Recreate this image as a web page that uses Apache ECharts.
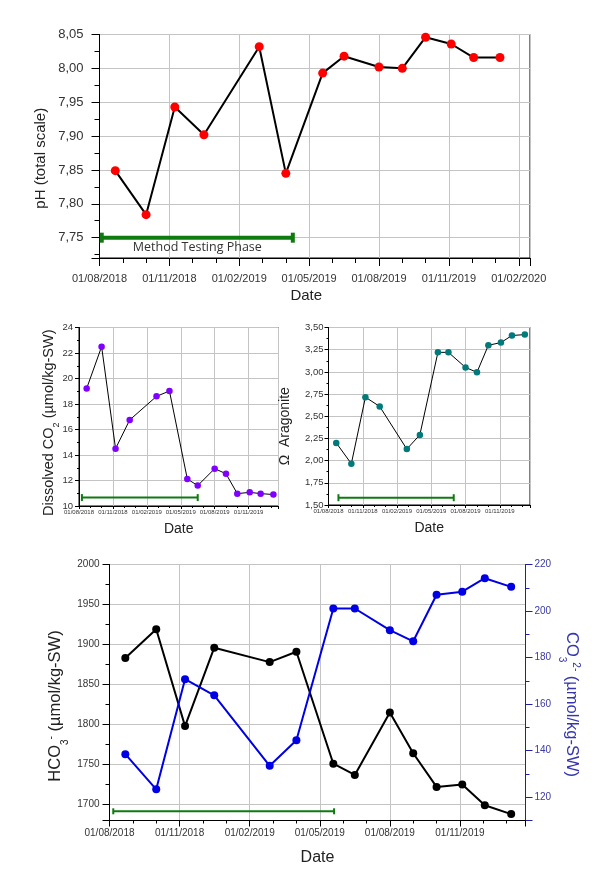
<!DOCTYPE html>
<html><head><meta charset="utf-8">
<script src="https://cdn.jsdelivr.net/npm/echarts@6/dist/echarts.min.js"></script>
<style>html,body{margin:0;padding:0;background:#fff}#c{width:604px;height:878px}</style>
</head><body><div id="c"></div>
<script>
// ---------------- DATA ----------------
const sampleDates = ['2018-08-22','2018-10-01','2018-11-08','2018-12-16','2019-02-25','2019-04-01','2019-05-19','2019-06-16','2019-08-01','2019-09-01','2019-10-01','2019-11-04','2019-12-03','2020-01-07'];
const pH = [7.849,7.784,7.943,7.902,8.032,7.845,7.993,8.018,8.002,8.000,8.046,8.036,8.016,8.016];
const dissolvedCO2 = [19.22,22.5,14.5,16.75,18.6,19.02,12.12,11.6,12.93,12.53,10.97,11.07,10.97,10.9];
const omegaAragonite = [2.20,1.965,2.715,2.61,2.13,2.29,3.22,3.22,3.05,2.995,3.30,3.33,3.41,3.42];
const bicarbonate = [1883,1919,1798,1896,1878,1891,1751,1737,1815,1764,1722,1725,1699,1688];
const carbonate = [138.5,123.4,170.7,163.8,133.5,144.5,201.1,201.1,191.8,187,207,208.3,214.1,210.4];
const xTickLabels = ['01/08/2018','01/11/2018','01/02/2019','01/05/2019','01/08/2019','01/11/2019','01/02/2020'];
const phaseLabel = 'Method Testing Phase';
const phasePH = ['2018-08-04','2019-04-10'];   const phasePHLevel = 7.75;
const phaseCO2 = ['2018-08-09','2019-06-16'];  const phaseCO2Level = 10.66;
const phaseOmega = ['2018-08-28','2019-06-30']; const phaseOmegaLevel = 1.582;
const phaseHCO3 = ['2018-08-06','2019-05-20']; const phaseHCO3Level = 1691.5;

// ---------------- HELPERS ----------------
const FONT = 'Liberation Sans, Arial, sans-serif';
function toMonths(s){ // months since 01/08/2018
  const [y,m,d] = s.split('-').map(Number);
  const dim = new Date(y, m, 0).getDate();
  return (y-2018)*12 + (m-8) + (d-1)/dim;
}
function pairs(vals){ return sampleDates.map((d,i)=>[toMonths(d), vals[i]]); }
function phasePairs(range, level){ return range.map(d=>[toMonths(d), level]); }
function isMult(v, step){ const r=v/step; return Math.abs(r-Math.round(r))<1e-6; }

function xAxisFor(g, maxDate, o){
  return {
    type:'value', gridIndex:g, min:0, max:toMonths(maxDate), interval:3,
    axisLine:{show:true, onZero:false, lineStyle:{color:'#000', width:1}},
    axisTick:{show:true, inside:false, length:o.tick, lineStyle:{color:'#000'}},
    minorTick:{show:true, splitNumber:3, length:o.minor, lineStyle:{color:'#000'}},
    splitLine:{show:true, lineStyle:{color:'#c4c4c4', width:1}},
    axisLabel:{ formatter:v=> isMult(v,3) ? (xTickLabels[Math.round(v/3)]||'') : '',
      fontSize:o.fs, color:'#333', fontFamily:FONT, margin:o.margin, hideOverlap:false },
    name:'Date', nameLocation:'middle', nameGap:o.nameGap, nameMoveOverlap:false,
    nameTextStyle:{fontSize:o.nameFs, color:'#222', fontFamily:FONT, padding:o.namePad||0}
  };
}
function yAxisFor(g, min, max, o){
  const a = {
    type:'value', gridIndex:g, min, max, position:o.position||'left',
    axisLine:{show:true, onZero:false, lineStyle:{color:o.lineColor||'#000', width:1}},
    axisTick:{show:true, inside:false, length:o.tick, lineStyle:{color:o.lineColor||'#000'}},
    minorTick:{show:true, splitNumber:2, length:o.minor, lineStyle:{color:o.lineColor||'#000'}},
    splitLine:{show:o.split!==false, lineStyle:{color:'#c4c4c4', width:1}},
    axisLabel:{ formatter:o.fmt, fontSize:o.fs, color:o.labelColor||'#333', fontFamily:FONT, margin:o.margin, showMinLabel:o.showMin!==false, hideOverlap:false },
    name:o.name, nameLocation:'middle', nameGap:o.nameGap, nameRotate:o.nameRotate||90, nameMoveOverlap:false,
    nameTextStyle:Object.assign({fontSize:o.nameFs, color:o.nameColor||'#222', fontFamily:FONT, padding:o.namePad||0}, o.nameStyle||{})
  };
  if (o.interval) a.interval = o.interval; else a.splitNumber = o.splitNumber;
  return a;
}
function lineSeries(x, y, data, o){
  return { type:'line', xAxisIndex:x, yAxisIndex:y, data, symbol:'circle', symbolSize:o.size,
    itemStyle:{color:o.mark}, lineStyle:{color:o.line, width:o.lw}, emphasis:{disabled:true}, z:3 };
}
function phaseSeries(x, y, data, o){
  return { type:'line', xAxisIndex:x, yAxisIndex:y, data, symbol:'rect', symbolSize:o.cap,
    itemStyle:{color:'#0f7a10'}, lineStyle:{color:'#0f7a10', width:o.lw}, emphasis:{disabled:true}, z:2 };
}
const comma2 = v => isMult(v,0.05) ? v.toFixed(2).replace('.',',') : '';

const chart = echarts.init(document.getElementById('c'), null, {renderer:'canvas'});
const gridBase = {show:true, borderColor:'#000', borderWidth:1, backgroundColor:'transparent', containLabel:false, outerBoundsMode:'none'};

const option = {
  animation:false,
  backgroundColor:'#fff',
  grid:[
    Object.assign({left:99.5, top:34.5, width:430.5, height:223.5}, gridBase),
    Object.assign({left:79, top:327.5, width:199.5, height:178.5}, gridBase),
    Object.assign({left:328.5, top:327.5, width:201.5, height:177.5}, gridBase),
    Object.assign({left:109.5, top:564.5, width:416, height:256}, gridBase)
  ],
  xAxis:[
    xAxisFor(0,'2020-02-15',{tick:8, minor:5, fs:11, margin:15, nameGap:30, nameFs:15, namePad:[0,17,0,0]}),
    xAxisFor(1,'2020-01-21',{tick:3, minor:2, fs:6, margin:3, nameGap:16, nameFs:14}),
    xAxisFor(2,'2020-01-21',{tick:3, minor:2, fs:6, margin:3, nameGap:16, nameFs:14}),
    xAxisFor(3,'2020-01-26',{tick:6, minor:3, fs:10, margin:8, nameGap:29, nameFs:16})
  ],
  yAxis:[
    yAxisFor(0, 7.72, 8.05, {splitNumber:6, tick:8, minor:5, fs:13, margin:16, fmt:comma2, showMin:false,
      name:'pH (total scale)', nameGap:51, nameFs:15, namePad:[0,24,0,0]}),
    yAxisFor(1, 10, 24, {interval:2, tick:4, minor:2, fs:9.5, margin:6, fmt:v=>String(v),
      name:'{a|Dissolved CO}{s|2}{a| (µmol/kg-SW)}', nameGap:18,
      nameStyle:{padding:[0,12,0,0], rich:{a:{fontSize:14.5, fontFamily:FONT, color:'#222', lineHeight:20, verticalAlign:'top'},
                       s:{fontSize:9, fontFamily:FONT, color:'#222', lineHeight:11, verticalAlign:'bottom'}}}}),
    yAxisFor(2, 1.5, 3.5, {interval:0.25, tick:4, minor:2, fs:9.5, margin:5, fmt:v=>v.toFixed(2).replace('.',','),
      name:'Ω  Aragonite', nameGap:36, nameFs:14, namePad:[0,20,0,0]}),
    yAxisFor(3, 1680, 2000, {splitNumber:6, tick:7, minor:4, fs:10, margin:10, fmt:v=> isMult(v,50)?String(v):'', showMin:false,
      name:'{a|HCO}{s|3}{p|-}{a| (µmol/kg-SW)}', nameGap:39,
      nameStyle:{padding:[0,27,0,0], rich:{a:{fontSize:16.5, fontFamily:FONT, color:'#222', lineHeight:24, verticalAlign:'top'},
                       s:{fontSize:10, fontFamily:FONT, color:'#222', lineHeight:12, verticalAlign:'bottom'},
                       p:{fontSize:10, fontFamily:FONT, color:'#222', lineHeight:12, verticalAlign:'top'}}}}),
    yAxisFor(3, 110, 220, {splitNumber:5, position:'right', split:false, tick:7, minor:4, fs:10, margin:9,
      lineColor:'#2020a0', labelColor:'#3a3aa8', fmt:v=> isMult(v,20)?String(v):'', showMin:false,
      name:'{a|CO}{s|3}{p|2-}{a| (µmol/kg-SW)}', nameGap:31, nameRotate:-90,
      nameStyle:{padding:[0,0,0,24], rich:{a:{fontSize:16.5, fontFamily:FONT, color:'#3535b0', lineHeight:24, verticalAlign:'top'},
                       s:{fontSize:10, fontFamily:FONT, color:'#3535b0', lineHeight:12, verticalAlign:'bottom'},
                       p:{fontSize:10, fontFamily:FONT, color:'#3535b0', lineHeight:12, verticalAlign:'top'}}}})
  ],
  series:[
    phaseSeries(0,0, phasePairs(phasePH, phasePHLevel), {cap:[4,10], lw:4}),
    lineSeries(0,0, pairs(pH), {size:9, mark:'#ff0000', line:'#000', lw:2}),
    phaseSeries(1,1, phasePairs(phaseCO2, phaseCO2Level), {cap:[2,7], lw:2}),
    lineSeries(1,1, pairs(dissolvedCO2), {size:6.5, mark:'#7f00ff', line:'#000', lw:1}),
    phaseSeries(2,2, phasePairs(phaseOmega, phaseOmegaLevel), {cap:[2,7], lw:2}),
    lineSeries(2,2, pairs(omegaAragonite), {size:6.5, mark:'#007a7a', line:'#000', lw:1}),
    phaseSeries(3,3, phasePairs(phaseHCO3, phaseHCO3Level), {cap:[2,6], lw:2}),
    lineSeries(3,3, pairs(bicarbonate), {size:8, mark:'#000', line:'#000', lw:2}),
    lineSeries(3,4, pairs(carbonate), {size:8, mark:'#0000e6', line:'#0000e6', lw:2})
  ]
};
chart.setOption(option);
const mid = (toMonths(phasePH[0]) + toMonths(phasePH[1]))/2;
const p = chart.convertToPixel({gridIndex:0}, [mid, phasePHLevel]);
chart.setOption({graphic:[{type:'text', x:p[0], y:p[1]+10, style:{text:phaseLabel, fontSize:12.5, fontFamily:'Open Sans, sans-serif', fill:'#333', align:'center', verticalAlign:'middle'}}]});
</script></body></html>
